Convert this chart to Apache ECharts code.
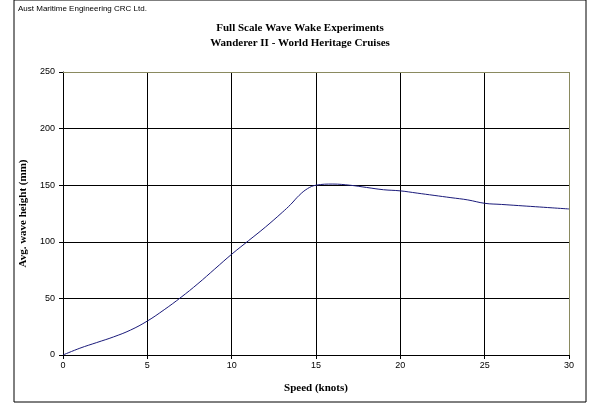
<!DOCTYPE html>
<html><head><meta charset="utf-8">
<script src="https://cdn.jsdelivr.net/npm/echarts@6/dist/echarts.min.js"></script>
<style>body{margin:0;background:#fff}#c{width:600px;height:410px}</style>
</head><body><div id="c"></div>
<script>
const speed = [0, 1, 2, 3, 4, 5, 6, 7, 8, 9, 10, 11, 12, 13, 13.5, 14, 14.5, 15, 16, 17, 18, 19, 20, 21, 22, 23, 24, 25, 26, 27, 28, 29, 30];
const height = [0, 6, 11, 16, 22, 30, 40, 51, 63, 76, 89, 101, 113, 126, 133, 141, 147, 150, 151, 150, 148, 146, 145, 143, 141, 139, 137, 134, 133, 132, 131, 130, 129];
const xTicks = [0, 5, 10, 15, 20, 25, 30];

const chart = echarts.init(document.getElementById('c'));
const serif = 'Liberation Serif';
chart.setOption({
  animation: false,
  graphic: [
    { type: 'rect', shape: { x: 14, y: 0, width: 572, height: 402 }, style: { fill: 'none', stroke: '#000', lineWidth: 1 } },
    { type: 'text', left: 18, top: 5, style: { text: 'Aust Maritime Engineering CRC Ltd.', font: '8px Liberation Sans', fill: '#000' } }
  ],
  title: {
    text: 'Full Scale Wave Wake Experiments\nWanderer II - World Heritage Cruises',
    left: 'center', top: 16,
    textStyle: { fontFamily: serif, fontSize: 11, fontWeight: 'bold', lineHeight: 15, color: '#000' }
  },
  grid: { left: 63, right: 31, top: 72, bottom: 55 },
  xAxis: {
    type: 'value', min: 0, max: 30, interval: 5,
    name: 'Speed (knots)', nameLocation: 'middle', nameGap: 28,
    nameTextStyle: { fontFamily: serif, fontSize: 11, fontWeight: 'bold', color: '#000' },
    axisLine: { lineStyle: { color: '#000' } },
    axisTick: { show: true, length: 4, lineStyle: { color: '#000' } },
    axisLabel: { fontFamily: 'Liberation Sans', fontSize: 9, color: '#000', margin: 6 },
    splitLine: { lineStyle: { color: '#000', width: 1 } }
  },
  yAxis: {
    type: 'value', min: 0, max: 250, interval: 50,
    name: 'Avg. wave height (mm)', nameLocation: 'middle', nameGap: 27,
    nameTextStyle: { fontFamily: serif, fontSize: 11, fontWeight: 'bold', color: '#000' },
    axisLine: { show: true, lineStyle: { color: '#000' } },
    axisTick: { show: true, length: 4, lineStyle: { color: '#000' } },
    axisLabel: { fontFamily: 'Liberation Sans', fontSize: 9, color: '#000', margin: 8 },
    splitLine: { lineStyle: { color: '#000', width: 1 } }
  },
  series: [{
    type: 'line', smooth: 0.4, showSymbol: false,
    data: speed.map((s, i) => [s, height[i]]),
    lineStyle: { color: '#1a1a7a', width: 1 }
  }, {
    type: 'line', data: [], silent: true,
    markLine: { silent: true, symbol: 'none', label: { show: false },
      lineStyle: { color: '#8a8a60', type: 'solid', width: 1 },
      data: [{ yAxis: 250 }, { xAxis: 30 }] }
  }]
});
</script></body></html>
